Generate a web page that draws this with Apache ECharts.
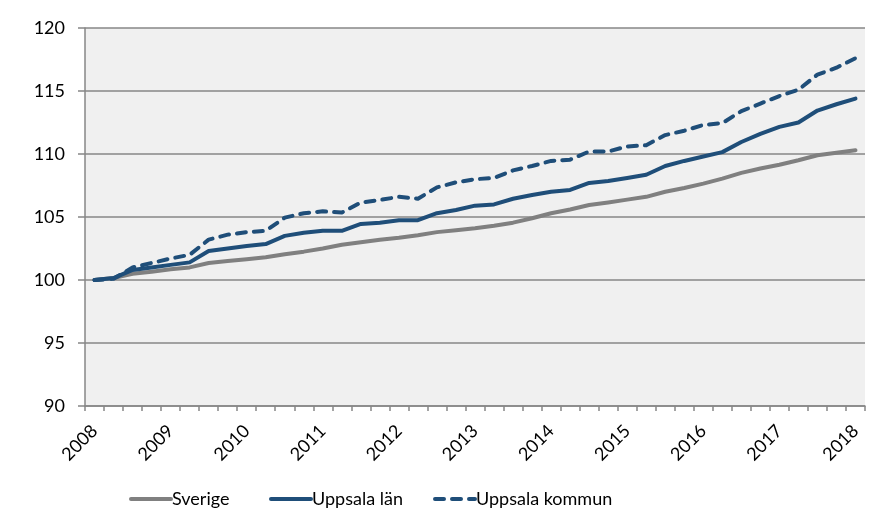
<!DOCTYPE html>
<html>
<head>
<meta charset="utf-8">
<script src="https://cdn.jsdelivr.net/npm/echarts@6/dist/echarts.min.js"></script>
<style>html,body{margin:0;padding:0;background:#fff}#c{width:888px;height:531px}</style>
</head>
<body>
<div id="c"></div>
<script>
var quarters = [];
for (var y = 2008; y <= 2018; y++) { for (var q = 1; q <= 4; q++) { if (quarters.length < 41) quarters.push(y + ' K' + q); } }

var sverige = [100.0,100.15,100.5,100.65,100.85,101.0,101.35,101.5,101.65,101.8,
  102.05,102.25,102.5,102.8,103.0,103.2,103.35,103.55,103.8,103.95,
  104.1,104.3,104.55,104.9,105.3,105.6,105.95,106.15,106.38,106.6,
  107.0,107.3,107.65,108.05,108.5,108.85,109.15,109.5,109.9,110.1,110.3];
var uppsalaLan = [100.0,100.15,100.8,101.0,101.2,101.4,102.3,102.5,102.7,102.85,
  103.5,103.75,103.9,103.9,104.45,104.55,104.75,104.75,105.3,105.55,
  105.9,106.0,106.45,106.75,107.0,107.15,107.7,107.85,108.1,108.35,
  109.05,109.45,109.8,110.15,110.95,111.6,112.15,112.5,113.45,113.95,114.4];
var uppsalaKommun = [100.0,100.1,101.0,101.35,101.7,102.0,103.2,103.6,103.8,103.9,
  104.95,105.3,105.45,105.35,106.15,106.35,106.6,106.45,107.35,107.75,
  108.0,108.1,108.7,109.05,109.45,109.55,110.2,110.2,110.6,110.7,
  111.5,111.85,112.3,112.45,113.4,114.0,114.6,115.1,116.3,116.85,117.6];
var seriesNames = ['Sverige', 'Uppsala län', 'Uppsala kommun'];

var FONT = 'Lato, "Open Sans", sans-serif';
var GRAY = '#878787';
var BLUE = '#1f4e79';
var LGRAY = '#808080';

var chart = echarts.init(document.getElementById('c'), null, {renderer: 'canvas'});
function legendAt(name, left) {
  return {
    data: [{name: name}], left: left, top: 485, itemWidth: 40, itemHeight: 14,
    itemGap: 0, selectedMode: false,
    itemStyle: {opacity: 0},
    lineStyle: {width: 4, cap: 'round'},
    textStyle: {fontFamily: FONT, fontSize: 18, color: '#000', padding: [0,0,0,-4]}
  };
}
chart.setOption({
  animation: false,
  grid: {left: 85, right: 23, top: 28, bottom: 125, show: true, backgroundColor: '#f0f0f0', borderWidth: 0},
  legend: [legendAt(seriesNames[0], 124), legendAt(seriesNames[1], 264), legendAt(seriesNames[2], 428)],
  xAxis: {
    type: 'category', data: quarters, boundaryGap: true,
    axisLine: {lineStyle: {color: GRAY, width: 1.5}},
    axisTick: {show: true, interval: 0, length: 5, lineStyle: {color: GRAY, width: 1.5}},
    axisLabel: {interval: 3, rotate: 45, margin: 22, fontFamily: FONT, fontSize: 18, color: '#000',
      formatter: function (v) { return v.slice(0, 4); }},
    splitLine: {show: false}
  },
  yAxis: {
    type: 'value', min: 90, max: 120, interval: 5,
    axisLine: {show: true, lineStyle: {color: GRAY, width: 1.5}},
    axisTick: {show: true, length: 7, lineStyle: {color: GRAY, width: 1.5}},
    axisLabel: {margin: 20, fontFamily: FONT, fontSize: 18, color: '#000'},
    splitLine: {show: true, lineStyle: {color: GRAY, width: 1.5}}
  },
  series: [
    {name: seriesNames[0], type: 'line', data: sverige, symbol: 'none', z: 3,
      lineStyle: {color: LGRAY, width: 4, cap: 'round', join: 'round'}, itemStyle: {color: LGRAY}},
    {name: seriesNames[1], type: 'line', data: uppsalaLan, symbol: 'none', z: 4,
      lineStyle: {color: BLUE, width: 4, cap: 'round', join: 'round'}, itemStyle: {color: BLUE}},
    {name: seriesNames[2], type: 'line', data: uppsalaKommun, symbol: 'none', z: 5,
      lineStyle: {color: BLUE, width: 4, type: [9, 8], cap: 'round', join: 'round'}, itemStyle: {color: BLUE}}
  ]
});
</script>
</body>
</html>
